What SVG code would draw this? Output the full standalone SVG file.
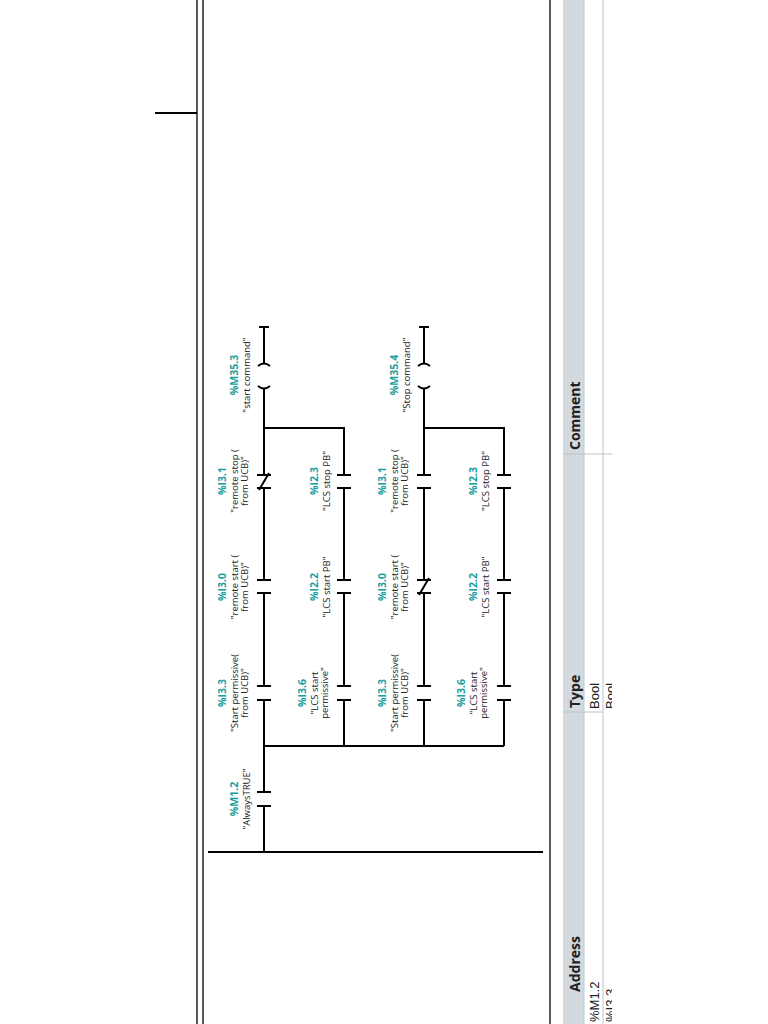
<svg xmlns="http://www.w3.org/2000/svg" width="768" height="1024" viewBox="0 0 768 1024">
<style>
.w{stroke:#000;stroke-width:2;fill:none}
.t{stroke:#000;stroke-width:1.3;fill:none}
.a{font-family:"Open Sans","DejaVu Sans",sans-serif;font-size:10.5px;font-weight:bold;fill:#1a9e9e;text-anchor:middle}
.l{font-family:"Open Sans","DejaVu Sans",sans-serif;font-size:9.5px;fill:#222;text-anchor:middle}
.h{font-family:"Open Sans","DejaVu Sans",sans-serif;font-size:14px;font-weight:bold;fill:#222}
.d{font-family:"Liberation Sans",sans-serif;font-size:13px;fill:#222}
</style>
<defs>
<clipPath id="c"><rect x="0" y="0" width="612" height="1024"/></clipPath>
</defs>
<rect width="768" height="1024" fill="#fff"/>
<g id="frame">
<line x1="197" y1="0" x2="197" y2="1024" class="t"/>
<line x1="203" y1="0" x2="203" y2="1024" class="t"/>
<line x1="550" y1="0" x2="550" y2="1024" class="t"/>
<line x1="155" y1="113" x2="197" y2="113" class="w"/>
</g>
<g id="table">
<rect x="563" y="0" width="21" height="1024" fill="#d3dadf"/>
<line x1="584" y1="0" x2="584" y2="1024" stroke="#c0c8ce" stroke-width="1"/>
<line x1="603" y1="0" x2="603" y2="1024" stroke="#b9c4cc" stroke-width="1"/>
<line x1="563" y1="712" x2="603" y2="712" stroke="#b9c4cc" stroke-width="1"/>
<line x1="563" y1="454" x2="612" y2="454" stroke="#b9c4cc" stroke-width="1"/>
<text class="h" transform="translate(580,992) rotate(-90)">Address</text>
<text class="h" transform="translate(580,708) rotate(-90)">Type</text>
<text class="h" transform="translate(580,450) rotate(-90)">Comment</text>
<g clip-path="url(#c)">
<text class="d" transform="translate(599,1022) rotate(-90)">%M1.2</text>
<text class="d" transform="translate(599,709) rotate(-90)">Bool</text>
<text class="d" transform="translate(615,1022) rotate(-90)">%I3.3</text>
<text class="d" transform="translate(615,709) rotate(-90)">Bool</text>
</g>
</g>
<g id="connectors">
<line x1="208" y1="852" x2="543" y2="852" class="w"/>
<path class="w" d="M264 852V806M264 792V746M264 746H504M264 746V700M264 686V593M264 580V488M264 475V428M264 428H344V475M344 746V700M344 686V593M344 580V488"/>
<path class="w" d="M264 428V389M264 363V327M259 327H269"/>
<path class="w" d="M424 746V700M424 686V593M424 580V488M424 475V428M424 428H504V475M504 746V700M504 686V593M504 580V488"/>
<path class="w" d="M424 428V389M424 363V327M419 327H429"/>
</g>
<g id="contacts" class="w">
<path d="M257 806H271M257 792H271"/>
<path d="M257 700H271M257 686H271M257 593H271M257 580H271M257 488H271M257 475H271M259 490L269 473"/>
<path d="M337 700H351M337 686H351M337 593H351M337 580H351M337 488H351M337 475H351"/>
<path d="M417 700H431M417 686H431M417 593H431M417 580H431M417 488H431M417 475H431M419 595L429 578"/>
<path d="M497 700H511M497 686H511M497 593H511M497 580H511M497 488H511M497 475H511"/>
<path d="M258 386Q264 391 270 386M258 366Q264 361 270 366"/>
<path d="M418 386Q424 391 430 386M418 366Q424 361 430 366"/>
</g>
<g id="labels">
<g id="r0">
<text class="a" transform="translate(238,799) rotate(-90)">%M1.2</text>
<text class="l" transform="translate(250,799) rotate(-90)">"AlwaysTRUE"</text>
</g>
<g id="r1">
<text class="a" transform="translate(226,693) rotate(-90)">%I3.3</text>
<text class="l" transform="translate(238,693) rotate(-90)">"Start permissive(</text>
<text class="l" transform="translate(248,693) rotate(-90)">from UCB)"</text>
<text class="a" transform="translate(226,587) rotate(-90)">%I3.0</text>
<text class="l" transform="translate(238,587) rotate(-90)">"remote start (</text>
<text class="l" transform="translate(248,587) rotate(-90)">from UCB)"</text>
<text class="a" transform="translate(226,481) rotate(-90)">%I3.1</text>
<text class="l" transform="translate(238,481) rotate(-90)">"remote stop (</text>
<text class="l" transform="translate(248,481) rotate(-90)">from UCB)"</text>
<text class="a" transform="translate(238,375) rotate(-90)">%M35.3</text>
<text class="l" transform="translate(250,375) rotate(-90)">"start command"</text>
<text class="a" transform="translate(306,693) rotate(-90)">%I3.6</text>
<text class="l" transform="translate(318,693) rotate(-90)">"LCS start</text>
<text class="l" transform="translate(328,693) rotate(-90)">permissive"</text>
<text class="a" transform="translate(318,587) rotate(-90)">%I2.2</text>
<text class="l" transform="translate(330,587) rotate(-90)">"LCS  start PB"</text>
<text class="a" transform="translate(318,481) rotate(-90)">%I2.3</text>
<text class="l" transform="translate(330,481) rotate(-90)">"LCS stop PB"</text>
</g>
<g id="r2">
<text class="a" transform="translate(386,693) rotate(-90)">%I3.3</text>
<text class="l" transform="translate(398,693) rotate(-90)">"Start permissive(</text>
<text class="l" transform="translate(408,693) rotate(-90)">from UCB)"</text>
<text class="a" transform="translate(386,587) rotate(-90)">%I3.0</text>
<text class="l" transform="translate(398,587) rotate(-90)">"remote start (</text>
<text class="l" transform="translate(408,587) rotate(-90)">from UCB)"</text>
<text class="a" transform="translate(386,481) rotate(-90)">%I3.1</text>
<text class="l" transform="translate(398,481) rotate(-90)">"remote stop (</text>
<text class="l" transform="translate(408,481) rotate(-90)">from UCB)"</text>
<text class="a" transform="translate(398,375) rotate(-90)">%M35.4</text>
<text class="l" transform="translate(410,375) rotate(-90)">"Stop command"</text>
<text class="a" transform="translate(465,693) rotate(-90)">%I3.6</text>
<text class="l" transform="translate(477,693) rotate(-90)">"LCS start</text>
<text class="l" transform="translate(487,693) rotate(-90)">permissive"</text>
<text class="a" transform="translate(477,587) rotate(-90)">%I2.2</text>
<text class="l" transform="translate(489,587) rotate(-90)">"LCS  start PB"</text>
<text class="a" transform="translate(477,481) rotate(-90)">%I2.3</text>
<text class="l" transform="translate(489,481) rotate(-90)">"LCS stop PB"</text>
</g>
</g>
</svg>
